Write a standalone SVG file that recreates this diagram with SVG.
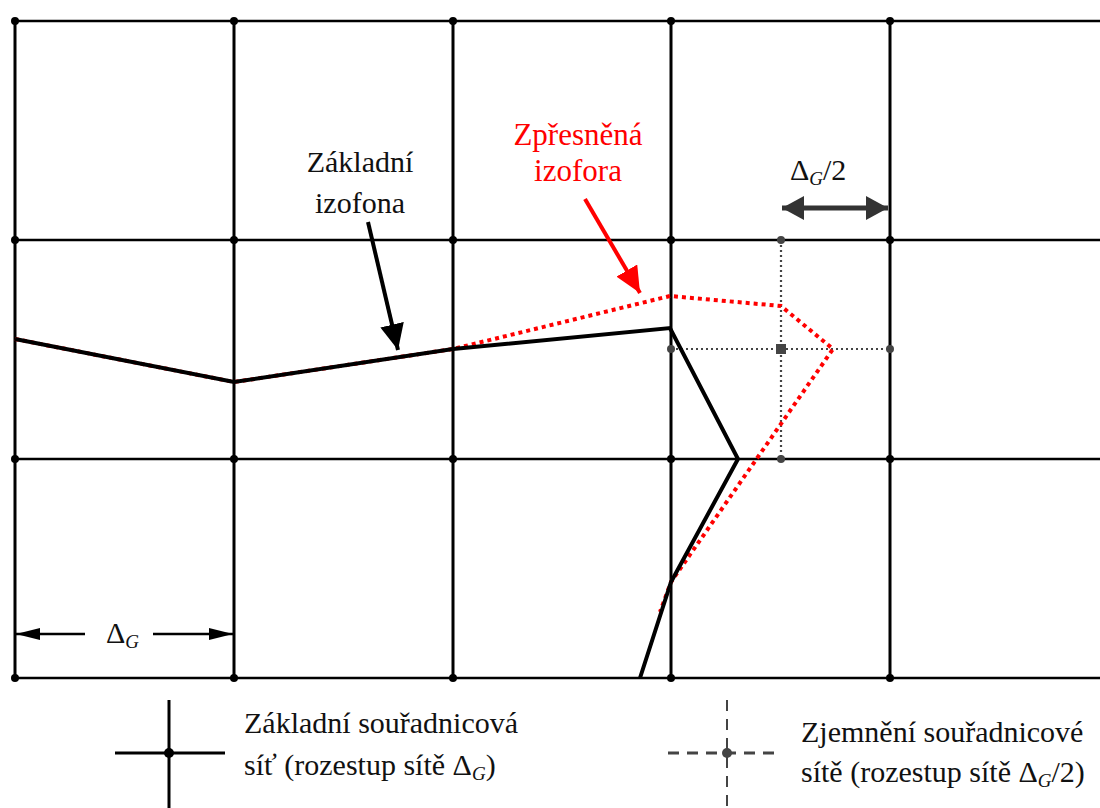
<svg xmlns="http://www.w3.org/2000/svg" width="1100" height="808" viewBox="0 0 1100 808">
<style>
.grid{stroke:#000;stroke-width:3;fill:none}
.gh{stroke:#000;stroke-width:2.5;fill:none}
.fine{stroke:#444;stroke-width:2.2;stroke-dasharray:2 3;fill:none}
.iso{stroke:#000;stroke-width:4;fill:none;stroke-linejoin:miter}
.red{stroke:#ff0000;stroke-width:4;stroke-dasharray:4 4;fill:none}
.t{font-family:"Liberation Serif","DejaVu Serif","Times New Roman",serif;font-size:30px;fill:#111}
.tr{font-family:"Liberation Serif","DejaVu Serif","Times New Roman",serif;font-size:31px;fill:#ff0000}
.sub{font-style:italic;font-size:19px}
</style>
<defs>
<marker id="ab" viewBox="0 0 26 24" refX="26" refY="12" markerWidth="26" markerHeight="24" orient="auto" markerUnits="userSpaceOnUse"><path d="M0,0 L26,12 L0,24 z" fill="#000"/></marker>
<marker id="ar" viewBox="0 0 26 24" refX="26" refY="12" markerWidth="26" markerHeight="24" orient="auto" markerUnits="userSpaceOnUse"><path d="M0,0 L26,12 L0,24 z" fill="#ff0000"/></marker>
<marker id="ag" viewBox="0 0 22 24" refX="22" refY="12" markerWidth="22" markerHeight="24" orient="auto-start-reverse" markerUnits="userSpaceOnUse"><path d="M0,0 L22,12 L0,24 z" fill="#333"/></marker>
<marker id="ad" viewBox="0 0 24 12" refX="24" refY="6" markerWidth="24" markerHeight="12" orient="auto" markerUnits="userSpaceOnUse"><path d="M0,0 L24,6 L0,12 z" fill="#000"/></marker>
</defs>
<g id="grid">
<line class="gh" x1="15" y1="21" x2="1100" y2="21"/>
<line class="gh" x1="15" y1="240" x2="1100" y2="240"/>
<line class="gh" x1="15" y1="459" x2="1100" y2="459"/>
<line class="gh" x1="15" y1="678" x2="1100" y2="678"/>
<line class="grid" x1="15" y1="21" x2="15" y2="678"/>
<line class="grid" x1="234" y1="21" x2="234" y2="678"/>
<line class="grid" x1="453" y1="21" x2="453" y2="678"/>
<line class="grid" x1="671" y1="21" x2="671" y2="678"/>
<line class="grid" x1="890" y1="21" x2="890" y2="678" stroke-width="3.5"/>
<g fill="#000">
<circle cx="15" cy="21" r="4"/><circle cx="234" cy="21" r="4"/><circle cx="453" cy="21" r="4"/><circle cx="671" cy="21" r="4"/><circle cx="890" cy="21" r="4"/>
<circle cx="15" cy="240" r="4"/><circle cx="234" cy="240" r="4"/><circle cx="453" cy="240" r="4"/><circle cx="671" cy="240" r="4"/><circle cx="890" cy="240" r="4"/>
<circle cx="15" cy="459" r="4"/><circle cx="234" cy="459" r="4"/><circle cx="453" cy="459" r="4"/><circle cx="671" cy="459" r="4"/><circle cx="890" cy="459" r="4"/>
<circle cx="15" cy="678" r="4"/><circle cx="234" cy="678" r="4"/><circle cx="453" cy="678" r="4"/><circle cx="671" cy="678" r="4"/><circle cx="890" cy="678" r="4"/>
</g>
</g>
<g id="fine-grid">
<line class="fine" x1="781" y1="240" x2="781" y2="459"/>
<line class="fine" x1="671" y1="349" x2="890" y2="349"/>
<g fill="#444">
<circle cx="781" cy="240" r="4"/><circle cx="781" cy="459" r="4"/><circle cx="671" cy="349" r="4"/><circle cx="890" cy="349" r="4"/>
<rect x="776" y="344" width="10" height="10"/>
</g>
</g>
<g id="connectors">
<polyline class="red" points="15,339 234,382 453,349 670,296 781,306 833,349 671,582 660,612"/>
<polyline class="iso" points="15,339 234,382 453,349 670,328 738,459 671,582 640,678"/>
<line x1="368" y1="222" x2="398" y2="350" stroke="#000" stroke-width="4" marker-end="url(#ab)"/>
<line x1="585" y1="199" x2="640" y2="293" stroke="#ff0000" stroke-width="4" marker-end="url(#ar)"/>
<line x1="782" y1="208" x2="888" y2="208" stroke="#333" stroke-width="5" marker-start="url(#ag)" marker-end="url(#ag)"/>
<line x1="85" y1="634" x2="16" y2="634" stroke="#000" stroke-width="2.5" marker-end="url(#ad)"/>
<line x1="153" y1="634" x2="233" y2="634" stroke="#000" stroke-width="2.5" marker-end="url(#ad)"/>
</g>
<g id="label-zakladni-izofona">
<text class="t" x="360" y="172" text-anchor="middle">Základní</text>
<text class="t" x="360" y="213" text-anchor="middle">izofona</text>
</g>
<g id="label-zpresnena-izofora">
<text class="tr" x="578" y="145" text-anchor="middle">Zpřesněná</text>
<text class="tr" x="578" y="181" text-anchor="middle">izofora</text>
</g>
<g id="label-dg2">
<text class="t" x="790" y="180">Δ<tspan class="sub" dy="5">G</tspan><tspan dy="-5">/2</tspan></text>
</g>
<g id="label-dg">
<text class="t" x="106" y="643">Δ<tspan class="sub" dy="5">G</tspan></text>
</g>
<g id="legend-basic">
<line x1="115" y1="753" x2="225" y2="753" stroke="#000" stroke-width="3"/>
<line x1="169" y1="700" x2="169" y2="808" stroke="#000" stroke-width="3"/>
<circle cx="169" cy="753" r="5" fill="#000"/>
<text class="t" x="244" y="733">Základní souřadnicová</text>
<text class="t" x="244" y="775">síť (rozestup sítě Δ<tspan class="sub" dy="5">G</tspan><tspan dy="-5">)</tspan></text>
</g>
<g id="legend-fine">
<line x1="668" y1="753" x2="780" y2="753" stroke="#444" stroke-width="3" stroke-dasharray="11 8"/>
<line x1="727" y1="700" x2="727" y2="808" stroke="#444" stroke-width="2" stroke-dasharray="11 8"/>
<circle cx="727" cy="753" r="5" fill="#444"/>
<text class="t" x="801" y="742">Zjemnění souřadnicové</text>
<text class="t" x="801" y="782">sítě (rozestup sítě Δ<tspan class="sub" dy="5">G</tspan><tspan dy="-5">/2)</tspan></text>
</g>
</svg>
